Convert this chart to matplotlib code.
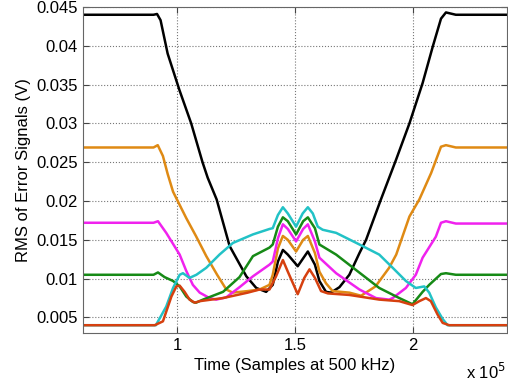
import matplotlib
matplotlib.use('Agg')
from matplotlib import pyplot as plt

plt.rcParams['font.family'] = ['Liberation Sans', 'DejaVu Sans']

# time in units of 1e5 samples, RMS in volts
black_t = [0.60, 0.90, 0.915, 0.93, 0.96, 1.01, 1.06, 1.108, 1.13, 1.168, 1.223, 1.294, 1.336, 1.378, 1.406,
           1.428, 1.449, 1.47, 1.512, 1.555, 1.585, 1.604, 1.632, 1.653, 1.689, 1.731, 1.774, 1.802, 1.865,
           1.929, 1.986, 2.042, 2.085, 2.12, 2.141, 2.183, 2.40]
black_v = [0.0440, 0.0440, 0.0441, 0.0433, 0.0390, 0.0343, 0.0300, 0.0250, 0.0230, 0.0202, 0.0142, 0.0103, 0.0088, 0.0083, 0.0092,
           0.0122, 0.0137, 0.0131, 0.0116, 0.0135, 0.0118, 0.0097, 0.0083, 0.0082, 0.0089, 0.0105, 0.0133, 0.0150, 0.0202,
           0.0253, 0.0300, 0.0352, 0.0399, 0.0435, 0.0443, 0.0440, 0.0440]

orange_t = [0.60, 0.90, 0.918, 0.94, 0.96, 0.983, 1.011, 1.039, 1.08, 1.124, 1.17, 1.209, 1.236, 1.30, 1.35, 1.392, 1.406,
            1.428, 1.449, 1.47, 1.505, 1.535, 1.555, 1.585, 1.604, 1.632, 1.66, 1.731, 1.781, 1.842, 1.90, 1.93,
            1.986, 2.028, 2.078, 2.12, 2.141, 2.183, 2.40]
orange_v = [0.0269, 0.0269, 0.0272, 0.0258, 0.0235, 0.0212, 0.0195, 0.0178, 0.0155, 0.0129, 0.0105, 0.0086, 0.0082, 0.0084, 0.0086, 0.0092, 0.0105,
            0.0139, 0.0155, 0.0150, 0.0135, 0.0150, 0.0155, 0.0133, 0.0109, 0.0094, 0.0084, 0.0082, 0.0078, 0.0090, 0.0114, 0.0131,
            0.0180, 0.0202, 0.0236, 0.0270, 0.0272, 0.0269, 0.0269]

magenta_t = [0.60, 0.90, 0.919, 0.954, 1.011, 1.039, 1.067, 1.096, 1.138, 1.166, 1.209, 1.265, 1.322, 1.392, 1.406,
             1.428, 1.449, 1.47, 1.505, 1.535, 1.555, 1.585, 1.604, 1.675, 1.774, 1.844, 1.90, 1.915, 1.971, 2.013,
             2.042, 2.098, 2.12, 2.141, 2.183, 2.40]
magenta_v = [0.0172, 0.0172, 0.0174, 0.0159, 0.0131, 0.0110, 0.0092, 0.0082, 0.0075, 0.0073, 0.0076, 0.0089, 0.0103, 0.0118, 0.0122,
             0.0152, 0.0170, 0.0164, 0.0148, 0.0164, 0.0170, 0.0148, 0.0127, 0.0107, 0.0086, 0.0075, 0.0073, 0.0075, 0.0088, 0.0105,
             0.0127, 0.0154, 0.0172, 0.0174, 0.0171, 0.0171]

green_t = [0.60, 0.90, 0.919, 0.947, 0.983, 1.011, 1.039, 1.067, 1.08, 1.11, 1.195, 1.265, 1.322, 1.392, 1.406,
           1.428, 1.449, 1.47, 1.505, 1.535, 1.555, 1.585, 1.604, 1.675, 1.76, 1.858, 1.943, 1.999, 2.042, 2.07,
           2.12, 2.141, 2.183, 2.40]
green_v = [0.0105, 0.0105, 0.0108, 0.0102, 0.0097, 0.0090, 0.0077, 0.0070, 0.0069, 0.0073, 0.0083, 0.0102, 0.0129, 0.0140, 0.0144,
           0.0167, 0.0179, 0.0174, 0.0157, 0.0174, 0.0179, 0.0165, 0.0144, 0.0131, 0.0111, 0.0088, 0.0075, 0.0067, 0.0083, 0.0092,
           0.0106, 0.0107, 0.0105, 0.0105]

cyan_t = [0.60, 0.91, 0.954, 0.983, 1.011, 1.025, 1.053, 1.082, 1.124, 1.18, 1.237, 1.322, 1.392, 1.406,
          1.428, 1.449, 1.47, 1.505, 1.533, 1.555, 1.576, 1.597, 1.618, 1.675, 1.774, 1.858, 1.915, 1.971, 2.013,
          2.049, 2.07, 2.098, 2.127, 2.148, 2.17, 2.40]
cyan_v = [0.0040, 0.0040, 0.0064, 0.0088, 0.0105, 0.0107, 0.0101, 0.0105, 0.0114, 0.0131, 0.0146, 0.0157, 0.0164, 0.0165,
          0.0182, 0.0192, 0.0184, 0.0167, 0.0184, 0.0192, 0.0184, 0.0167, 0.0163, 0.0159, 0.0144, 0.0131, 0.0114, 0.0097, 0.0088,
          0.0090, 0.0082, 0.0063, 0.0048, 0.0040, 0.0040, 0.0040]

red_t = [0.60, 0.905, 0.94, 0.976, 0.997, 1.011, 1.032, 1.053, 1.075, 1.096, 1.195, 1.30, 1.35, 1.392,
         1.42, 1.449, 1.47, 1.512, 1.54, 1.562, 1.585, 1.611, 1.64, 1.731, 1.816, 1.858, 1.943, 1.999, 2.028,
         2.056, 2.077, 2.105, 2.127, 2.155, 2.40]
red_v = [0.0040, 0.0040, 0.0045, 0.0077, 0.0090, 0.0091, 0.0083, 0.0073, 0.0069, 0.0071, 0.0075, 0.0082, 0.0086, 0.0086,
         0.0103, 0.0124, 0.0109, 0.0080, 0.0101, 0.0112, 0.0101, 0.0084, 0.0081, 0.0079, 0.0075, 0.0073, 0.0071, 0.0066, 0.0071,
         0.0075, 0.0071, 0.0054, 0.0043, 0.0040, 0.0040]

series = [
    (black_t, black_v, 'black'),
    (orange_t, orange_v, '#df8a14'),
    (magenta_t, magenta_v, '#f022ee'),
    (green_t, green_v, '#168a16'),
    (cyan_t, cyan_v, '#22c2c6'),
    (red_t, red_v, '#d6400f'),
]

fig = plt.figure(figsize=(5.08, 3.89), dpi=100)
ax = fig.add_axes([0.163, 0.144, 0.835, 0.838])

for t, v, c in series:
    ax.plot(t, v, color=c, linewidth=1.8)

ax.set_xlim(0.6, 2.4)
ax.set_ylim(0.003, 0.045)
ax.set_xticks([1, 1.5, 2])
ax.set_xticklabels(['1', '1.5', '2'])
ax.set_yticks([0.005, 0.01, 0.015, 0.02, 0.025, 0.03, 0.035, 0.04, 0.045])
ax.set_yticklabels(['0.005', '0.01', '0.015', '0.02', '0.025', '0.03', '0.035', '0.04', '0.045'])
ax.tick_params(direction='in', labelsize=12, right=True, top=True, length=4, color='#444444')
ax.grid(True, linestyle=':', color='#777777', linewidth=0.8)
for s in ax.spines.values():
    s.set_color('#666666')

ax.set_xlabel('Time (Samples at 500 kHz)', fontsize=12, labelpad=4)
ax.set_ylabel('RMS of Error Signals (V)', fontsize=12, labelpad=4)
fig.text(0.918, 0.025, r'x 10$^5$', fontsize=12)

fig.savefig('out.png', dpi=100)
